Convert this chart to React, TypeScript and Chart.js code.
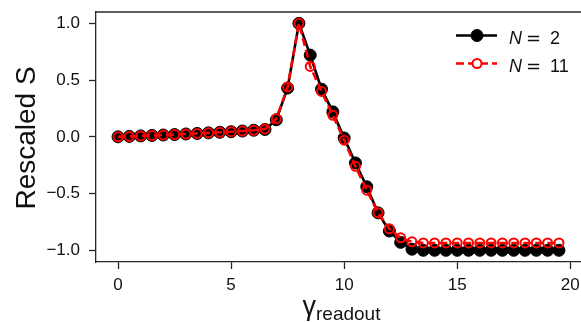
import { useEffect, useRef } from "react";
import { Chart, registerables } from "chart.js";

Chart.register(...registerables);

// ---- data ----
const xValues = [
  0, 0.5, 1, 1.5, 2, 2.5, 3, 3.5, 4, 4.5, 5, 5.5, 6, 6.5, 7, 7.5, 8, 8.5, 9, 9.5,
  10, 10.5, 11, 11.5, 12, 12.5, 13, 13.5, 14, 14.5, 15, 15.5, 16, 16.5, 17, 17.5, 18, 18.5, 19, 19.5,
];
const seriesN2 = [
  0, 0.004, 0.008, 0.012, 0.016, 0.02, 0.025, 0.03, 0.035, 0.04, 0.045, 0.051, 0.058, 0.065, 0.15, 0.43, 1.0, 0.72, 0.42, 0.22,
  -0.01, -0.23, -0.44, -0.67, -0.83, -0.93, -0.99, -1.0, -1.0, -1.0, -1.0, -1.0, -1.0, -1.0, -1.0, -1.0, -1.0, -1.0, -1.0, -1.0,
];
const seriesN11 = [
  0, 0.004, 0.008, 0.012, 0.016, 0.02, 0.025, 0.03, 0.035, 0.04, 0.045, 0.051, 0.058, 0.07, 0.16, 0.44, 1.0, 0.62, 0.4, 0.19,
  -0.03, -0.26, -0.47, -0.67, -0.81, -0.89, -0.925, -0.935, -0.935, -0.935, -0.935, -0.935, -0.935, -0.935, -0.935, -0.935, -0.935, -0.935, -0.935, -0.935,
];
const xTickValues = [0, 5, 10, 15, 20];
const yTickValues = [-1.0, -0.5, 0.0, 0.5, 1.0];
const seriesNames = ["2", "11"];
const yAxisLabel = "Rescaled S";
const xAxisMain = "γ";
const xAxisSub = "readout";

const AXIS = "#262626";
const FONT = '"Liberation Sans", Arial, sans-serif';

const zeroPadding = (s: any) => {
  s.paddingTop = 0;
  s.paddingBottom = 0;
  s.paddingLeft = 0;
  s.paddingRight = 0;
};

const decorPlugin = {
  id: "decor",
  afterDraw(chart: any) {
    const { ctx, chartArea: a } = chart;
    ctx.save();
    // top spine
    ctx.strokeStyle = AXIS;
    ctx.lineWidth = 1.3;
    ctx.beginPath();
    ctx.moveTo(a.left - 0.65, a.top);
    ctx.lineTo(chart.width, a.top);
    ctx.stroke();

    ctx.fillStyle = "#111";
    // y label
    ctx.save();
    ctx.font = `28px ${FONT}`;
    ctx.textAlign = "center";
    ctx.textBaseline = "alphabetic";
    ctx.translate(35, (a.top + a.bottom) / 2 + 1);
    ctx.rotate(-Math.PI / 2);
    ctx.fillText(yAxisLabel, 0, 0);
    ctx.restore();

    // x label with subscript
    ctx.textAlign = "left";
    ctx.textBaseline = "alphabetic";
    ctx.font = `27px ${FONT}`;
    const wMain = ctx.measureText(xAxisMain).width;
    ctx.font = `19px ${FONT}`;
    const wSub = ctx.measureText(xAxisSub).width;
    const startX = (a.left + a.right) / 2 + 3 - (wMain + wSub) / 2;
    ctx.font = `27px ${FONT}`;
    ctx.fillText(xAxisMain, startX, 314.5);
    ctx.font = `19px ${FONT}`;
    ctx.fillText(xAxisSub, startX + wMain, 320);

    // legend
    const rows = [
      { y: 35.5, color: "#000", dash: [] as number[], filled: true, r: 6, name: seriesNames[0], base: 43.5 },
      { y: 63.5, color: "#ff0000", dash: [8, 4], filled: false, r: 4.5, name: seriesNames[1], base: 71.5 },
    ];
    rows.forEach((row) => {
      ctx.save();
      ctx.strokeStyle = row.color;
      ctx.lineWidth = 2.6;
      ctx.setLineDash(row.dash);
      ctx.beginPath();
      ctx.moveTo(456, row.y);
      ctx.lineTo(497, row.y);
      ctx.stroke();
      ctx.setLineDash([]);
      ctx.beginPath();
      ctx.arc(477, row.y, row.r, 0, Math.PI * 2);
      if (row.filled) {
        ctx.fillStyle = row.color;
        ctx.fill();
        ctx.lineWidth = 1;
        ctx.stroke();
      } else {
        ctx.fillStyle = "#fff";
        ctx.fill();
        ctx.lineWidth = 2;
        ctx.stroke();
      }
      ctx.restore();
      ctx.fillStyle = "#111";
      ctx.font = `italic 18px ${FONT}`;
      ctx.fillText("N", 509, row.base);
      ctx.font = `18px "DejaVu Sans", sans-serif`;
      ctx.fillText("=", 526, row.base);
      ctx.font = `18px ${FONT}`;
      ctx.fillText(row.name, 550, row.base);
    });
    ctx.restore();
  },
};

export default function App() {
  const ref = useRef<HTMLCanvasElement | null>(null);
  useEffect(() => {
    document.body.style.margin = "0";
    const canvas = ref.current!;
    const chart = new Chart(canvas, {
      type: "line",
      data: {
        datasets: [
          {
            label: "N = 2",
            data: xValues.map((x, i) => ({ x, y: seriesN2[i] })),
            borderColor: "#000",
            backgroundColor: "#000",
            borderWidth: 2.6,
            pointRadius: 6,
            pointBorderWidth: 1,
            pointBackgroundColor: "#000",
            pointBorderColor: "#000",
            tension: 0,
            order: 2,
          },
          {
            label: "N = 11",
            data: xValues.map((x, i) => ({ x, y: seriesN11[i] })),
            borderColor: "#ff0000",
            backgroundColor: "rgba(0,0,0,0)",
            borderWidth: 2.6,
            borderDash: [8, 4],
            pointRadius: 4.5,
            pointBorderWidth: 2,
            pointBackgroundColor: "rgba(0,0,0,0)",
            pointBorderColor: "#ff0000",
            tension: 0,
            order: 1,
          },
        ],
      },
      options: {
        animation: false,
        responsive: false,
        devicePixelRatio: 1,
        events: [],
        layout: { padding: { top: 12, right: 0, left: 0, bottom: 0 }, autoPadding: false },
        plugins: { legend: { display: false }, tooltip: { enabled: false } },
        scales: {
          x: {
            type: "linear",
            min: -0.975,
            max: 20.475,
            afterBuildTicks: (s: any) => {
              s.ticks = xTickValues.map((v) => ({ value: v }));
            },
            afterFit: (s: any) => {
              s.height = 60;
              zeroPadding(s);
            },
            grid: { drawOnChartArea: false, drawTicks: true, tickLength: 7, tickColor: AXIS, tickWidth: 1.3 },
            border: { display: true, color: AXIS, width: 1.3 },
            ticks: {
              color: "#111",
              font: { family: FONT, size: 17 },
              padding: 6,
              maxRotation: 0,
              autoSkip: false,
              callback: (v: any) => String(v),
            },
          },
          y: {
            type: "linear",
            min: -1.103,
            max: 1.1,
            afterBuildTicks: (s: any) => {
              s.ticks = yTickValues.map((v) => ({ value: v }));
            },
            afterFit: (s: any) => {
              s.width = 96;
              zeroPadding(s);
            },
            grid: { drawOnChartArea: false, drawTicks: true, tickLength: 7, tickColor: AXIS, tickWidth: 1.3 },
            border: { display: true, color: AXIS, width: 1.3 },
            ticks: {
              color: "#111",
              font: { family: FONT, size: 17 },
              padding: 9,
              autoSkip: false,
              callback: (v: any) => Number(v).toFixed(1).replace("-", "\u2212"),
            },
          },
        },
      },
      plugins: [decorPlugin],
    });
    return () => chart.destroy();
  }, []);
  return (
    <div style={{ position: "absolute", left: 0, top: 0, width: 581, height: 322 }}>
      <canvas ref={ref} width={581} height={322} style={{ width: 581, height: 322, display: "block" }} />
    </div>
  );
}
